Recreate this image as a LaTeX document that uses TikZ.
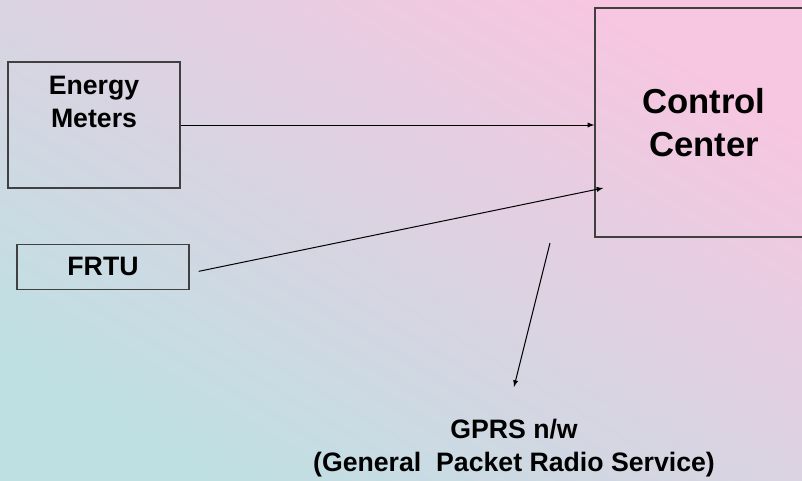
\documentclass[tikz,border=0pt]{standalone}
\usepackage{fontspec}
\setmainfont{Liberation Sans}
\usetikzlibrary{arrows, positioning}
\definecolor{bgpink}{HTML}{F7C6E1}
\definecolor{bgmid}{HTML}{DBD5E3}
\definecolor{bgcyan}{HTML}{BEE0E3}
\definecolor{mline}{HTML}{404040}
\tikzstyle{unit} = [rectangle, draw = mline, line width = 1pt, text centered, font = \bfseries\fontsize{20}{24.75}\selectfont]
\tikzstyle{big} = [font = \bfseries\fontsize{26}{32}\selectfont]
\tikzstyle{link} = [->, >=latex, line width = 0.75pt]

\begin{document}
\begin{tikzpicture}[align=center, x=0.75pt, y=-0.75pt]
  \shade [top color = bgpink, middle color = bgmid, bottom color = bgcyan, shading angle = -31] (0,0) rectangle (802,480);
  \useasboundingbox (0,0) rectangle (802,480);
  \node (em) [unit, minimum width = 129pt, minimum height = 94.5pt,
    label = {[name = emtext, anchor = north, inner sep = 0pt, yshift = -11.25pt, font = \bfseries\fontsize{20}{24.75}\selectfont]north:{Energy\\Meters}}] at (94,125) {};
  \node (frtu) [unit, minimum width = 129pt, minimum height = 33.75pt, below = 41.25pt of em, xshift = 6.75pt] {FRTU};
  \node (cc) [unit, big, minimum width = 163.5pt, minimum height = 171.75pt] at (704,122.5) {Control\\Center};
  \node (gprs) [anchor = north, inner sep = 0pt, font = \bfseries\fontsize{20}{24.75}\selectfont] at (514,419) {GPRS n/w\\(General~~Packet Radio Service)};
  \coordinate (gsrc) at (550,243);
  \draw [link] (em.east) -- (em.east -| cc.west);
  \draw [link] ([shift = {(9,4.5)}]frtu.east) -- ([shift = {(9,65.5)}]cc.west);
  \draw [link] (gsrc) -- ([yshift = 24pt]gprs.north);
\end{tikzpicture}
\end{document}
